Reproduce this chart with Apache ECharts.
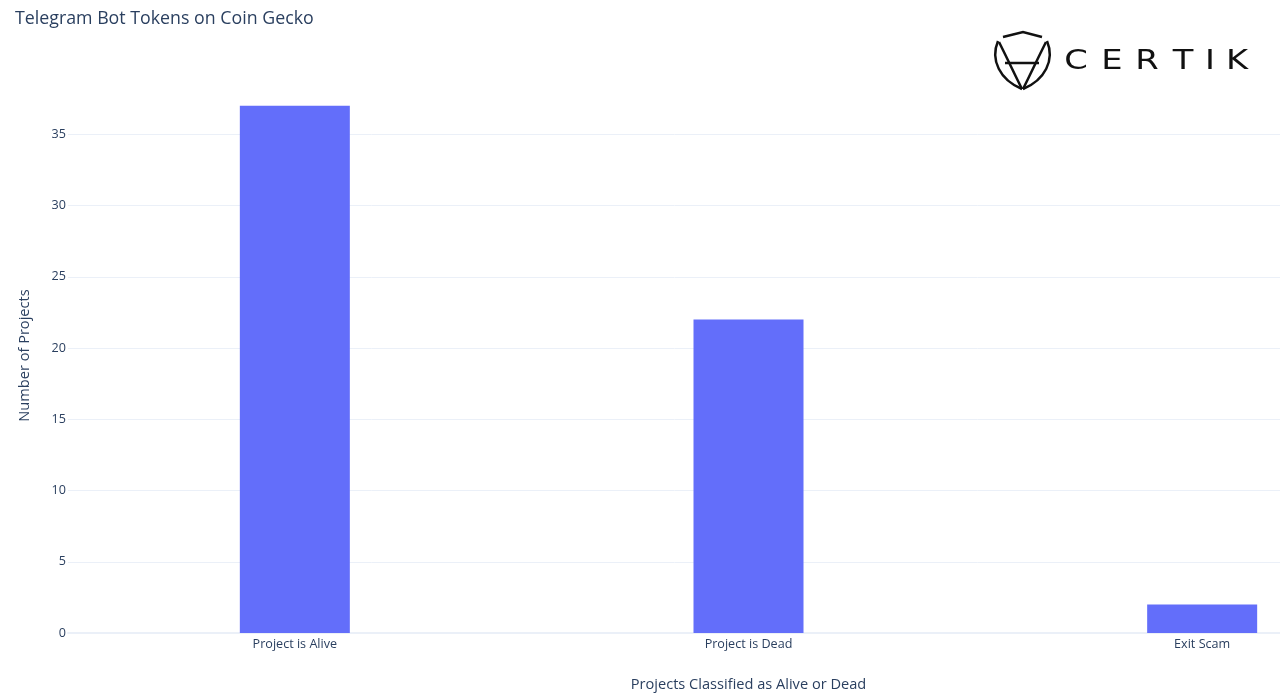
<!DOCTYPE html>
<html>
<head>
<meta charset="utf-8">
<script src="https://cdn.jsdelivr.net/npm/echarts@6/dist/echarts.min.js"></script>
<style>
html,body{margin:0;padding:0;background:#fff;}
#chart{width:1280px;height:700px;}
</style>
</head>
<body>
<div id="chart"></div>
<script>
const categories = ['Project is Alive', 'Project is Dead', 'Exit Scam'];
const projectCounts = [37, 22, 2];
const titleText = 'Telegram Bot Tokens on Coin Gecko';
const xAxisTitle = 'Projects Classified as Alive or Dead';
const yAxisTitle = 'Number of Projects';
const logoLetters = ['C', 'E', 'R', 'T', 'I', 'K'];

const FONT = '"Open Sans", sans-serif';
const INK = '#2a3f5f';
const GRID = '#ebf0f8';

const chart = echarts.init(document.getElementById('chart'), null, {renderer: 'canvas'});

const letterX = [1076, 1112, 1147, 1183, 1210, 1237];
const LS = {fill: null, stroke: '#111', lineWidth: 2.5};
function curve(x1, y1, cx1, cy1, cx2, cy2, x2, y2) {
  return {type: 'bezierCurve', shape: {x1: x1, y1: y1, cpx1: cx1, cpy1: cy1, cpx2: cx2, cpy2: cy2, x2: x2, y2: y2}, style: LS};
}
const logoGraphics = [
  {type: 'polyline', shape: {points: [[1003, 37], [1023, 32], [1042, 37]]}, style: LS},
  curve(998, 41, 990, 60, 1000, 80, 1022, 89),
  curve(999, 42, 1008, 60, 1015, 75, 1022, 89),
  curve(1047, 41, 1055, 60, 1045, 80, 1023, 89),
  curve(1046, 42, 1037, 60, 1030, 75, 1023, 89),
  {type: 'line', shape: {x1: 1005, y1: 63, x2: 1039, y2: 63}, style: {stroke: '#111', lineWidth: 2.5}}
];
logoLetters.forEach((ch, i) => {
  logoGraphics.push({
    type: 'text', x: letterX[i], y: 62, scaleX: 1.25,
    style: {text: ch, fill: '#111', font: 'normal 27px "DejaVu Sans", sans-serif', align: 'center', verticalAlign: 'middle'}
  });
});

chart.setOption({
  backgroundColor: '#ffffff',
  animation: false,
  title: {
    text: titleText, left: 10, top: 5,
    textStyle: {fontFamily: FONT, fontSize: 17.8, fontWeight: 'normal', color: INK}
  },
  graphic: logoGraphics,
  grid: {left: 68, width: 1361, top: 78, bottom: 67, containLabel: false, outerBoundsMode: 'none'},
  xAxis: {
    type: 'category',
    data: categories,
    name: xAxisTitle,
    nameLocation: 'middle',
    nameGap: 44,
    nameTextStyle: {fontFamily: FONT, fontSize: 14.6, color: INK},
    axisLine: {show: true, lineStyle: {color: GRID, width: 2}},
    axisTick: {show: false},
    axisLabel: {fontFamily: FONT, fontSize: 12.6, color: INK, margin: 5},
    splitLine: {show: false}
  },
  yAxis: {
    type: 'value',
    min: 0, max: 38.95, interval: 5,
    name: yAxisTitle,
    nameLocation: 'middle',
    nameRotate: 90,
    nameGap: 36,
    nameTextStyle: {fontFamily: FONT, fontSize: 14.6, color: INK},
    axisLine: {show: false},
    axisTick: {show: false},
    axisLabel: {fontFamily: FONT, fontSize: 12.6, color: INK, margin: 2, showMaxLabel: false},
    splitLine: {show: true, showMaxLine: false, lineStyle: {color: GRID, width: 1}}
  },
  series: [{
    type: 'bar',
    data: projectCounts,
    barWidth: 110,
    itemStyle: {color: '#636efa'}
  }]
});
</script>
</body>
</html>
